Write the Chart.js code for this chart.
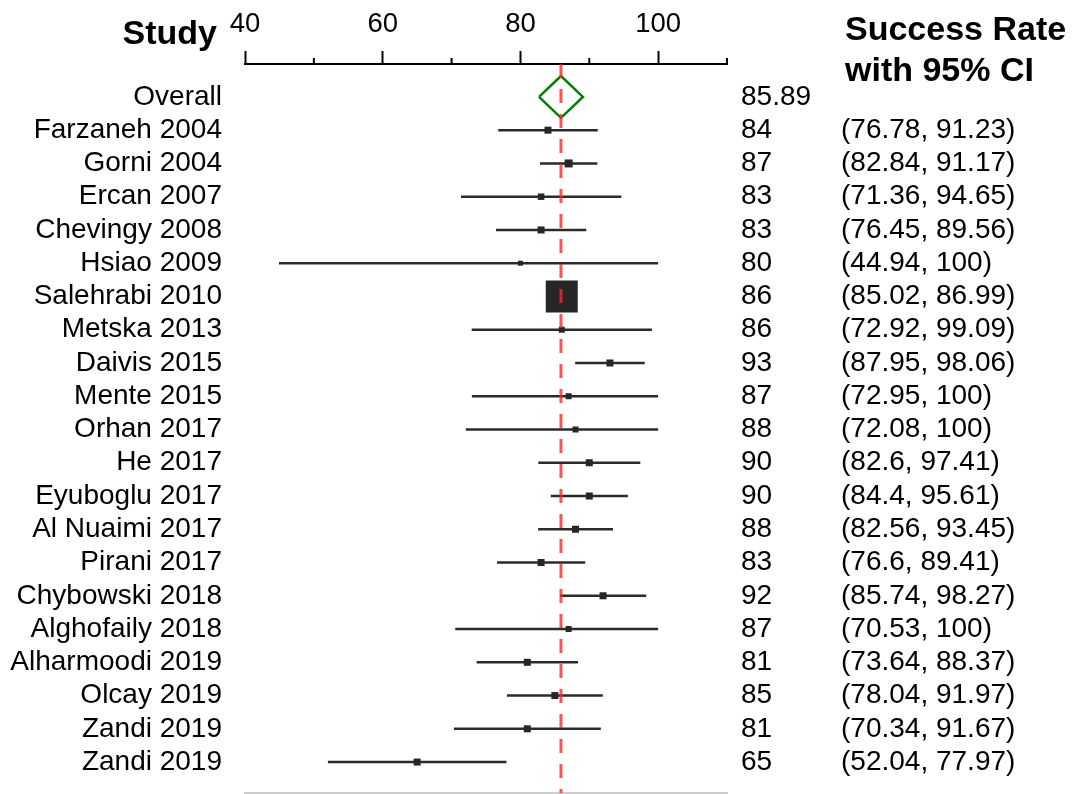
<!DOCTYPE html>
<html>
<head>
<meta charset="utf-8">
<script src="https://cdn.jsdelivr.net/npm/chart.js@4/dist/chart.umd.min.js"></script>
<style>
html,body{margin:0;padding:0;background:#fff;}
#wrap{width:1074px;height:794px;position:relative;}
</style>
</head>
<body>
<div id="wrap"><canvas id="c"></canvas></div>
<script>
// ---- data ----
const studies = ['Farzaneh 2004','Gorni 2004','Ercan 2007','Chevingy 2008','Hsiao 2009','Salehrabi 2010','Metska 2013','Daivis 2015','Mente 2015','Orhan 2017','He 2017','Eyuboglu 2017','Al Nuaimi 2017','Pirani 2017','Chybowski 2018','Alghofaily 2018','Alharmoodi 2019','Olcay 2019','Zandi 2019','Zandi 2019'];
const estimates = [84,87,83,83,80,86,86,93,87,88,90,90,88,83,92,87,81,85,81,65];
const ciLower = [76.78,82.84,71.36,76.45,44.94,85.02,72.92,87.95,72.95,72.08,82.6,84.4,82.56,76.6,85.74,70.53,73.64,78.04,70.34,52.04];
const ciUpper = [91.23,91.17,94.65,89.56,100,86.99,99.09,98.06,100,100,97.41,95.61,93.45,89.41,98.27,100,88.37,91.97,91.67,77.97];
const weights = [1.44,1.88,1.24,1.44,0.73,30.0,1.06,1.44,1.06,1.06,1.44,1.44,1.44,1.44,1.44,1.06,1.44,1.44,1.44,1.44];
const overallLabel = 'Overall';
const overallEstimate = 85.89;
const overallLower = 82.70;
const overallUpper = 89.08;
const xMajorTicks = [40,60,80,100];
const xMinorTicks = [50,70,90,110];

// ---- derived ----
const rowLabels = [overallLabel].concat(studies);
const estLabels = [String(overallEstimate)].concat(estimates.map(String));
const ciLabels = [''].concat(studies.map((s,i)=>'(' + ciLower[i] + ', ' + ciUpper[i] + ')'));
const rowValues = rowLabels.map((_, i) => i);

const FONT = "'Liberation Sans', Arial, sans-serif";
const Y_MIN = -0.99, Y_MAX = 20.93;
const DIAMOND_HALF = 0.63;

const ciData = [];
studies.forEach((s, i) => {
  ciData.push({x: ciLower[i], y: i + 1});
  ciData.push({x: ciUpper[i], y: i + 1});
  ciData.push({x: null, y: null});
});
const boxData = estimates.map((e, i) => ({x: e, y: i + 1}));
const boxRadius = weights.map(w => 5.84 * Math.sqrt(w) / Math.SQRT2);
const diamondData = [
  {x: overallLower, y: 0},
  {x: overallEstimate, y: -DIAMOND_HALF},
  {x: overallUpper, y: 0},
  {x: overallEstimate, y: DIAMOND_HALF},
  {x: overallLower, y: 0}
];
const refLine = [{x: overallEstimate, y: Y_MIN}, {x: overallEstimate, y: Y_MAX}];

const setRowTicks = s => { s.ticks = rowValues.map(v => ({value: v})); };
const fitV = w => s => { s.width = w; s.paddingTop = 0; s.paddingBottom = 0; };
const labelFont = {family: FONT, size: 28};
const tickFont = {family: FONT, size: 27.5};

const headerPlugin = {
  id: 'headers',
  afterDraw(chart) {
    const ctx = chart.ctx;
    const xs = chart.scales.x;
    const top = chart.chartArea.top;
    ctx.save();
    ctx.strokeStyle = '#000';
    ctx.lineWidth = 2;
    xMinorTicks.forEach(v => {
      const px = xs.getPixelForValue(v);
      ctx.beginPath();
      ctx.moveTo(px, top - 6);
      ctx.lineTo(px, top);
      ctx.stroke();
    });
    ctx.fillStyle = '#000';
    ctx.font = 'bold 34px ' + FONT;
    ctx.textBaseline = 'alphabetic';
    ctx.textAlign = 'right';
    ctx.fillText('Study', 217, 44);
    ctx.textAlign = 'left';
    ctx.fillText('Success Rate', 845, 40);
    ctx.fillText('with 95% CI', 845, 81);
    ctx.restore();
  }
};

new Chart(document.getElementById('c'), {
  type: 'scatter',
  data: {
    datasets: [
      {type: 'line', data: refLine, borderColor: 'rgba(255,40,40,0.8)', borderWidth: 3, borderDash: [14, 11], pointRadius: 0, xAxisID: 'x', yAxisID: 'y', order: 0},
      {type: 'scatter', data: boxData, pointStyle: 'rect', pointRadius: boxRadius, backgroundColor: '#262626', borderWidth: 0, pointBorderWidth: 0, xAxisID: 'x', yAxisID: 'y', order: 1},
      {type: 'line', data: ciData, borderColor: '#2b2b2b', borderWidth: 2.5, pointRadius: 0, spanGaps: false, xAxisID: 'x', yAxisID: 'y', order: 2},
      {type: 'line', data: diamondData, borderColor: '#008000', borderWidth: 2.5, pointRadius: 0, fill: false, tension: 0, xAxisID: 'x', yAxisID: 'y', order: 3}
    ]
  },
  options: {
    responsive: true,
    maintainAspectRatio: false,
    animation: false,
    layout: {padding: 0, autoPadding: false},
    plugins: {legend: {display: false}, tooltip: {enabled: false}},
    scales: {
      x: {
        type: 'linear', position: 'top', min: 40, max: 110, z: 1,
        afterBuildTicks: s => { s.ticks = xMajorTicks.map(v => ({value: v})); },
        afterFit: s => { s.height = 64; s.paddingLeft = 0; s.paddingRight = 0; },
        grid: {drawOnChartArea: false, drawTicks: true, tickLength: 13, tickWidth: 2, tickColor: '#000'},
        border: {display: true, color: '#000', width: 2},
        ticks: {font: tickFont, color: '#000', padding: 10, maxRotation: 0, autoSkip: false}
      },
      x2: {
        type: 'linear', position: 'bottom', min: 40, max: 110,
        afterFit: s => { s.height = 1; s.paddingLeft = 0; s.paddingRight = 0; },
        ticks: {display: false},
        grid: {display: false, drawTicks: false},
        border: {display: true, color: '#cccccc', width: 2}
      },
      y: {
        type: 'linear', position: 'left', reverse: true, min: Y_MIN, max: Y_MAX,
        afterBuildTicks: setRowTicks,
        afterFit: fitV(245),
        grid: {display: false, drawTicks: false},
        border: {display: false},
        ticks: {font: labelFont, color: '#000', padding: 23, autoSkip: false, callback: v => rowLabels[Math.round(v)]}
      },
      yEst: {
        type: 'linear', position: 'right', reverse: true, min: Y_MIN, max: Y_MAX,
        afterBuildTicks: setRowTicks,
        afterFit: fitV(114),
        grid: {display: false, drawTicks: false},
        border: {display: false},
        ticks: {font: labelFont, color: '#000', padding: 14, autoSkip: false, callback: v => estLabels[Math.round(v)]}
      },
      yCI: {
        type: 'linear', position: 'right', reverse: true, min: Y_MIN, max: Y_MAX,
        afterBuildTicks: setRowTicks,
        afterFit: fitV(233),
        grid: {display: false, drawTicks: false},
        border: {display: false},
        ticks: {font: labelFont, color: '#000', padding: 0, autoSkip: false, callback: v => ciLabels[Math.round(v)]}
      }
    }
  },
  plugins: [headerPlugin]
});
</script>
</body>
</html>
